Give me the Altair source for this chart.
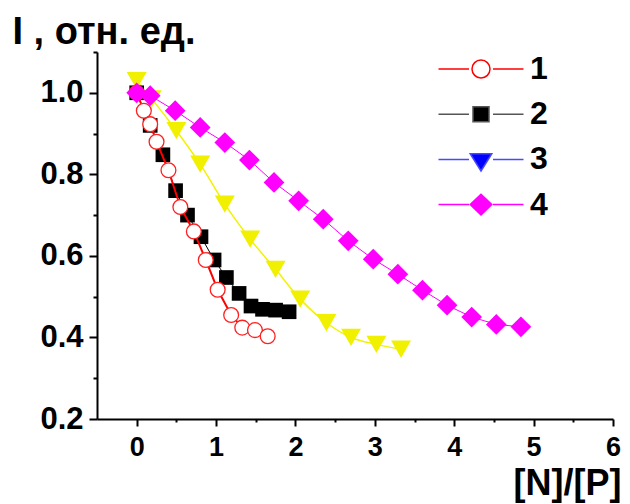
import altair as alt
import pandas as pd

# ---- data ----
x1 = [0.0, 0.09, 0.17, 0.25, 0.40, 0.55, 0.72, 0.87, 1.02, 1.19, 1.33, 1.49, 1.65]
y1 = [1.0, 0.956, 0.923, 0.88, 0.81, 0.72, 0.66, 0.59, 0.517, 0.455, 0.424, 0.418, 0.403]
x2 = [0.0, 0.17, 0.33, 0.49, 0.64, 0.81, 0.975, 1.13, 1.29, 1.44, 1.585, 1.75, 1.92]
y2 = [1.0, 0.92, 0.848, 0.76, 0.70, 0.647, 0.59, 0.547, 0.508, 0.477, 0.469, 0.467, 0.463]
x3 = [0.0, 0.19, 0.5, 0.8, 1.11, 1.43, 1.75, 2.06, 2.39, 2.7, 3.02, 3.33]
y3 = [1.03, 0.985, 0.907, 0.825, 0.727, 0.641, 0.567, 0.494, 0.436, 0.40, 0.383, 0.371]
x4 = [0.0, 0.17, 0.485, 0.8, 1.11, 1.42, 1.73, 2.04, 2.35, 2.665, 2.98, 3.29, 3.6, 3.91, 4.22, 4.53, 4.84]
y4 = [1.0, 0.993, 0.956, 0.915, 0.878, 0.835, 0.78, 0.735, 0.69, 0.637, 0.592, 0.555, 0.516, 0.479, 0.45, 0.432, 0.426]

series_names = ["1", "2", "3", "4"]
x_ticks = [0, 0.5, 1, 1.5, 2, 2.5, 3, 3.5, 4, 4.5, 5, 5.5, 6]
y_ticks = [0.2, 0.3, 0.4, 0.5, 0.6, 0.7, 0.8, 0.9, 1.0, 1.1]

df = pd.concat([
    pd.DataFrame({"x": xs, "y": ys, "series": name})
    for name, xs, ys in zip(series_names, [x1, x2, x3, x4], [y1, y2, y3, y4])
], ignore_index=True)

FONT = "Liberation Sans"

# ---- styles ----
styles = {
    "1": dict(line="#FF0000", lw=2, interp="linear", shape="circle", size=220,
              fill="#FFFFFF", stroke="#FF2020", sw=1.3),
    "2": dict(line="#000000", lw=1, interp="linear", shape="square", size=215,
              fill="#000000", stroke="#000000", sw=0),
    "3": dict(line="#F2F200", lw=1.5, interp="monotone", shape="triangle-down", size=400,
              fill="#F0F000", stroke="#F0F000", sw=0),
    "4": dict(line="#FF00FF", lw=1, interp="linear", shape="diamond", size=430,
              fill="#FF00FF", stroke="#FF00FF", sw=0),
}

x_axis = alt.Axis(
    values=x_ticks,
    labelExpr="datum.value % 1 === 0 ? format(datum.value, 'd') : ''",
    tickSize={"condition": {"test": "datum.value % 1 === 0", "value": 7}, "value": 3},
    labelPadding=8, labelFlush=False, labelFontSize=27,
    title="[N]/[P]", titleAlign="right", titleAngle=0, titleBaseline="alphabetic",
    titleX=524, titleY=75, titleFontSize=36,
)
y_axis = alt.Axis(
    values=y_ticks,
    labelExpr="round(datum.value*10) % 2 === 0 ? format(datum.value, '.1f') : ''",
    tickSize={"condition": {"test": "round(datum.value*10) % 2 === 0", "value": 8},
              "value": 4},
    labelPadding=6, labelFlush=False, labelFontSize=31,
    title="I , отн. ед.", titleAlign="left", titleAngle=0, titleBaseline="alphabetic",
    titleX=-85, titleY=-9, titleFontSize=38,
)

xs_ = alt.X("x:Q", scale=alt.Scale(domain=[-0.5, 6], nice=False, zero=False), axis=x_axis)
ys_ = alt.Y("y:Q", scale=alt.Scale(domain=[0.2, 1.1], nice=False, zero=False), axis=y_axis)

base = alt.Chart(df)
layers = []
for name in ["3", "2", "1", "4"]:
    st = styles[name]
    sub = base.transform_filter(alt.datum.series == name)
    layers.append(sub.mark_line(color=st["line"], strokeWidth=st["lw"],
                                interpolate=st["interp"]).encode(x=xs_, y=ys_))
    layers.append(sub.mark_point(shape=st["shape"], size=st["size"], filled=False,
                                 fill=st["fill"], stroke=st["stroke"],
                                 strokeWidth=st["sw"], opacity=1).encode(x=xs_, y=ys_))

# legend-only layer (no visible data); symbols are line + marker paths
leg_shapes = [
    "M-4.25,0H-1.2M1.2,0H4.25M0.9,0A0.9,0.9,0,1,1,-0.9,0A0.9,0.9,0,1,1,0.9,0Z",
    "M-4.25,0H-1.2M1.2,0H4.25M-0.8,-0.75H0.8V0.75H-0.8Z",
    "M-4.25,0H-1.2M1.2,0H4.25M-1.08,-0.57H1.08L0,1.16Z",
    "M-4.25,0H-1.2M1.2,0H4.25M-1.08,0L0,-1.03L1.08,0L0,1.03Z",
]
leg_stroke = ["#FF0000", "#555555", "#4848FF", "#FF00FF"]
leg_fill = ["#FFFFFF", "#000000", "#0000FF", "#FF00FF"]

legend_layer = base.transform_filter("false").mark_point(filled=False, opacity=1, strokeWidth=1.5).encode(
    x=xs_, y=ys_,
    stroke=alt.Stroke("series:N", scale=alt.Scale(domain=series_names, range=leg_stroke),
                      legend=alt.Legend(title=None)),
    fill=alt.Fill("series:N", scale=alt.Scale(domain=series_names, range=leg_fill),
                  legend=alt.Legend(title=None)),
    shape=alt.Shape("series:N", scale=alt.Scale(domain=series_names, range=leg_shapes),
                    legend=alt.Legend(title=None)),
)
layers.append(legend_layer)

chart = alt.layer(*layers).properties(
    width=516, height=367,
    autosize="none",
    padding={"left": 89, "top": 44, "right": 9, "bottom": 85},
    background="white",
).configure_view(stroke=None).configure_axis(
    grid=False,
    domainColor="black", domainWidth=2,
    tickColor="black", tickWidth=2,
    labelFont=FONT, labelFontWeight="bold", labelColor="black",
    titleFont=FONT, titleFontWeight="bold", titleColor="black",
).configure_legend(
    orient="none", legendX=368, legendY=1, padding=0,
    symbolSize=400, symbolStrokeWidth=1.5,
    labelFont=FONT, labelFontSize=32, labelFontWeight="bold", labelColor="black",
    labelOffset=33, rowPadding=13.2, labelBaseline="middle",
)

chart.save("out.html", embed_options={"renderer": "svg", "actions": False})
